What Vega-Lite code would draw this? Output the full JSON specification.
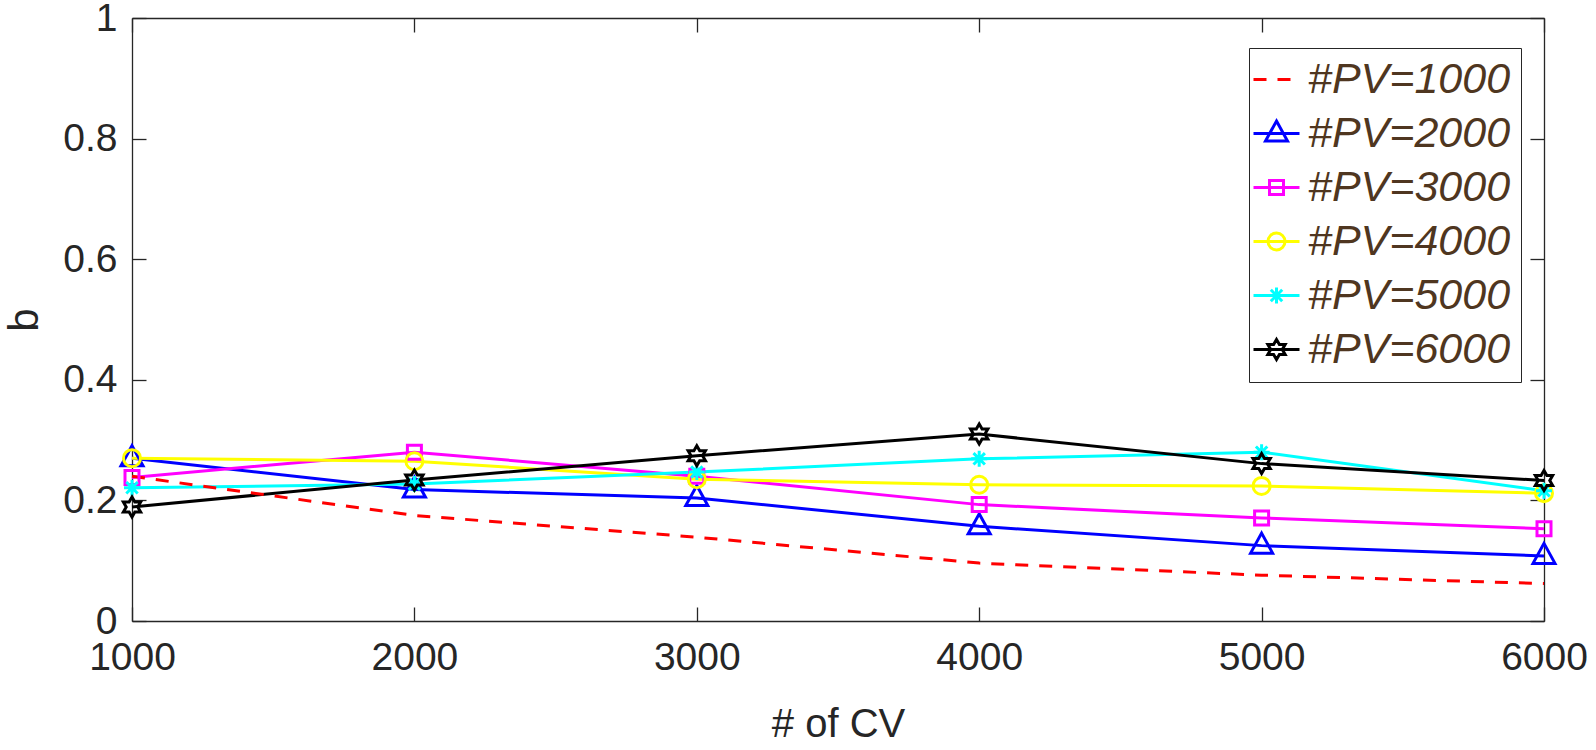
{
  "$schema": "https://vega.github.io/schema/vega-lite/v6.json",
  "width": 1412,
  "height": 603,
  "autosize": "none",
  "padding": {"left": 132, "top": 18, "right": 52, "bottom": 129},
  "background": "white",
  "config": {
    "view": {"stroke": null},
    "font": "Liberation Sans",
    "axis": {
      "grid": false,
      "labelFont": "Liberation Sans",
      "labelFontSize": 39,
      "labelColor": "#262626",
      "labelFlush": false,
      "labelOverlap": false,
      "domainColor": "#262626",
      "domainWidth": 1.3,
      "tickColor": "#262626",
      "tickWidth": 1.3,
      "tickSize": -14,
      "titleFont": "Liberation Sans",
      "titleFontSize": 40,
      "titleFontWeight": "normal",
      "titleColor": "#262626"
    }
  },
  "data": {
    "values": [
      {"cv": 1000, "b": 0.240, "series": "#PV=1000"},
      {"cv": 2000, "b": 0.175, "series": "#PV=1000"},
      {"cv": 3000, "b": 0.139, "series": "#PV=1000"},
      {"cv": 4000, "b": 0.096, "series": "#PV=1000"},
      {"cv": 5000, "b": 0.076, "series": "#PV=1000"},
      {"cv": 6000, "b": 0.062, "series": "#PV=1000"},
      {"cv": 1000, "b": 0.270, "series": "#PV=2000"},
      {"cv": 2000, "b": 0.218, "series": "#PV=2000"},
      {"cv": 3000, "b": 0.204, "series": "#PV=2000"},
      {"cv": 4000, "b": 0.157, "series": "#PV=2000"},
      {"cv": 5000, "b": 0.125, "series": "#PV=2000"},
      {"cv": 6000, "b": 0.108, "series": "#PV=2000"},
      {"cv": 1000, "b": 0.238, "series": "#PV=3000"},
      {"cv": 2000, "b": 0.280, "series": "#PV=3000"},
      {"cv": 3000, "b": 0.240, "series": "#PV=3000"},
      {"cv": 4000, "b": 0.193, "series": "#PV=3000"},
      {"cv": 5000, "b": 0.171, "series": "#PV=3000"},
      {"cv": 6000, "b": 0.153, "series": "#PV=3000"},
      {"cv": 1000, "b": 0.270, "series": "#PV=4000"},
      {"cv": 2000, "b": 0.265, "series": "#PV=4000"},
      {"cv": 3000, "b": 0.235, "series": "#PV=4000"},
      {"cv": 4000, "b": 0.226, "series": "#PV=4000"},
      {"cv": 5000, "b": 0.224, "series": "#PV=4000"},
      {"cv": 6000, "b": 0.212, "series": "#PV=4000"},
      {"cv": 1000, "b": 0.221, "series": "#PV=5000"},
      {"cv": 2000, "b": 0.227, "series": "#PV=5000"},
      {"cv": 3000, "b": 0.247, "series": "#PV=5000"},
      {"cv": 4000, "b": 0.269, "series": "#PV=5000"},
      {"cv": 5000, "b": 0.280, "series": "#PV=5000"},
      {"cv": 6000, "b": 0.216, "series": "#PV=5000"},
      {"cv": 1000, "b": 0.189, "series": "#PV=6000"},
      {"cv": 2000, "b": 0.234, "series": "#PV=6000"},
      {"cv": 3000, "b": 0.274, "series": "#PV=6000"},
      {"cv": 4000, "b": 0.310, "series": "#PV=6000"},
      {"cv": 5000, "b": 0.261, "series": "#PV=6000"},
      {"cv": 6000, "b": 0.233, "series": "#PV=6000"}
    ]
  },
  "layer": [
    {
      "transform": [{"filter": "datum.series !== '#PV=1000'"}],
      "mark": {"type": "line", "strokeWidth": 3},
      "encoding": {
        "x": {
          "field": "cv", "type": "quantitative",
          "scale": {"domain": [1000, 6000], "nice": false, "zero": false},
          "axis": {"values": [1000, 2000, 3000, 4000, 5000, 6000], "format": "d", "title": "# of CV", "labelPadding": 31, "titlePadding": 27}
        },
        "y": {
          "field": "b", "type": "quantitative",
          "scale": {"domain": [0, 1], "nice": false},
          "axis": {"values": [0, 0.2, 0.4, 0.6, 0.8, 1], "format": ".1~f", "title": "b", "titleFontSize": 42, "labelPadding": 29, "titlePadding": 16}
        },
        "color": {
          "field": "series", "type": "nominal",
          "scale": {
            "domain": ["#PV=1000", "#PV=2000", "#PV=3000", "#PV=4000", "#PV=5000", "#PV=6000"],
            "range": ["#FF0000", "#0000FF", "#FF00FF", "#FFFF00", "#00FFFF", "#000000"]
          },
          "legend": {
            "title": null,
            "orient": "none",
            "legendX": 1117,
            "legendY": 30,
            "direction": "vertical",
            "strokeColor": "#262626",
            "fillColor": "white",
            "padding": 10,
            "symbolSize": 400,
            "symbolStrokeWidth": 3,
            "symbolOffset": -4,
            "labelOffset": 10,
            "labelFont": "Liberation Sans",
            "labelFontSize": 43,
            "labelFontStyle": "italic",
            "labelColor": "#4F3620",
            "labelLimit": 400,
            "rowPadding": 10,
            "encode": {
              "symbols": {
                "update": {
                  "shape": {"signal": "datum.value === '#PV=1000' ? 'M-2.3,0H-1.0M0.1,0H1.4' : datum.value === '#PV=2000' ? 'M-2.3,0H2.3M0,-1.25L1.1,0.75H-1.1Z' : datum.value === '#PV=3000' ? 'M-2.3,0H2.3M-0.7,-0.7H0.7V0.7H-0.7Z' : datum.value === '#PV=4000' ? 'M-2.3,0H2.3M0.85,0A0.85,0.85 0 1,1 -0.85,0A0.85,0.85 0 1,1 0.85,0' : datum.value === '#PV=5000' ? 'M-2.3,0H2.3M0,-0.8V0.8M-0.57,-0.57L0.57,0.57M-0.57,0.57L0.57,-0.57' : 'M-2.3,0H2.3M0,-1L-0.289,-0.5L-0.866,-0.5L-0.577,0L-0.866,0.5L-0.289,0.5L0,1L0.289,0.5L0.866,0.5L0.577,0L0.866,-0.5L0.289,-0.5Z'"},
                  "fill": {"value": "transparent"},
                  "strokeWidth": {"value": 3},
                  "size": {"value": 400},
                  "opacity": {"value": 1}
                }
              }
            }
          }
        }
      }
    },
    {
      "transform": [{"filter": "datum.series === '#PV=1000'"}],
      "mark": {"type": "line", "strokeWidth": 3, "strokeDash": [13, 11]},
      "encoding": {
        "x": {"field": "cv", "type": "quantitative", "axis": null},
        "y": {"field": "b", "type": "quantitative", "axis": null},
        "color": {"field": "series", "type": "nominal"}
      }
    },
    {
      "transform": [{"filter": "datum.series !== '#PV=1000'"}],
      "mark": {"type": "point", "filled": false, "strokeWidth": 3, "size": 400, "opacity": 1, "clip": false},
      "encoding": {
        "x": {"field": "cv", "type": "quantitative", "axis": null},
        "y": {"field": "b", "type": "quantitative", "axis": null},
        "color": {"field": "series", "type": "nominal"},
        "shape": {
          "field": "series", "type": "nominal", "legend": null,
          "scale": {
            "domain": ["#PV=2000", "#PV=3000", "#PV=4000", "#PV=5000", "#PV=6000"],
            "range": [
              "M0,-1.25L1.1,0.75H-1.1Z",
              "M-0.7,-0.7H0.7V0.7H-0.7Z",
              "M0.85,0A0.85,0.85 0 1,1 -0.85,0A0.85,0.85 0 1,1 0.85,0",
              "M0,-0.8V0.8M-0.8,0H0.8M-0.57,-0.57L0.57,0.57M-0.57,0.57L0.57,-0.57",
              "M0,-1L-0.289,-0.5L-0.866,-0.5L-0.577,0L-0.866,0.5L-0.289,0.5L0,1L0.289,0.5L0.866,0.5L0.577,0L0.866,-0.5L0.289,-0.5Z"
            ]
          }
        }
      }
    },
    {
      "mark": {"type": "point", "opacity": 0},
      "encoding": {
        "x": {"field": "cv", "type": "quantitative", "axis": {"orient": "top", "values": [1000, 2000, 3000, 4000, 5000, 6000], "labels": false, "title": null}},
        "y": {"field": "b", "type": "quantitative", "axis": {"orient": "right", "values": [0, 0.2, 0.4, 0.6, 0.8, 1], "labels": false, "title": null}}
      }
    }
  ],
  "resolve": {"axis": {"x": "independent", "y": "independent"}}
}
